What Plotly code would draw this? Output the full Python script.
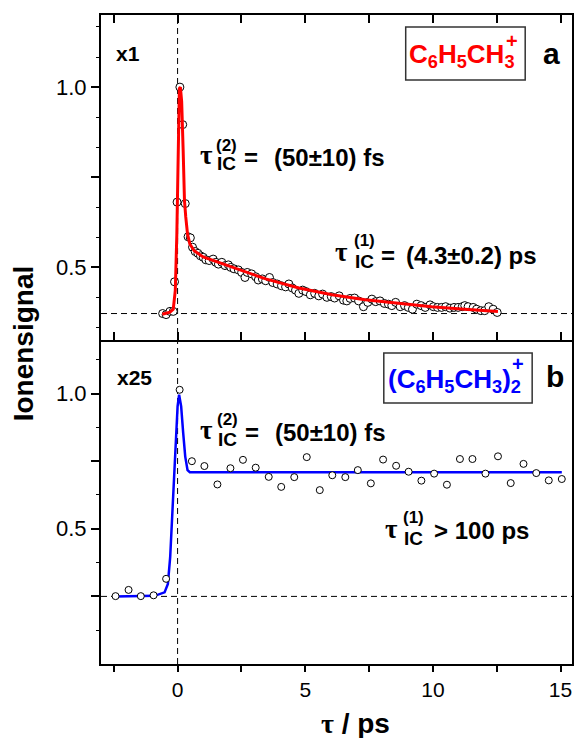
import plotly.graph_objects as go

# ---------------- panel a : C6H5CH3+ (x1) ----------------
tau_a = [-0.585, -0.45, -0.30, -0.17, -0.12, -0.02, 0.09, 0.20, 0.30, 0.41, 0.50,
         0.585, 0.69, 0.796, 0.897, 1.003, 1.108, 1.237, 1.393, 1.498, 1.60, 1.732,
         1.86, 1.99, 2.083, 2.21, 2.38, 2.51, 2.64, 2.73, 2.90, 3.06, 3.16, 3.32,
         3.45, 3.60, 3.73, 3.90, 4.07, 4.23, 4.36, 4.49, 4.62, 4.75, 4.90, 5.03,
         5.20, 5.37, 5.53, 5.68, 5.85, 6.02, 6.15, 6.33, 6.50, 6.63, 6.76, 6.93,
         7.09, 7.28, 7.45, 7.61, 7.76, 7.93, 8.10, 8.26, 8.39, 8.54, 8.72, 8.89,
         9.04, 9.20, 9.37, 9.54, 9.70, 9.89, 10.02, 10.18, 10.34, 10.50, 10.67,
         10.83, 10.99, 11.15, 11.25, 11.38, 11.58, 11.71, 11.88, 12.03, 12.19,
         12.36, 12.52]
sig_a = [0.372, 0.369, 0.378, 0.378, 0.460, 0.681, 1.000, 0.896, 0.677, 0.585, 0.582,
         0.556, 0.544, 0.539, 0.532, 0.528, 0.521, 0.519, 0.523, 0.514, 0.509, 0.514,
         0.505, 0.507, 0.500, 0.496, 0.493, 0.486, 0.472, 0.486, 0.482, 0.474, 0.465,
         0.468, 0.463, 0.472, 0.458, 0.454, 0.449, 0.446, 0.454, 0.443, 0.437, 0.428,
         0.437, 0.433, 0.424, 0.428, 0.421, 0.426, 0.417, 0.419, 0.415, 0.421, 0.409,
         0.407, 0.414, 0.415, 0.407, 0.391, 0.403, 0.412, 0.405, 0.407, 0.400, 0.398,
         0.394, 0.403, 0.391, 0.394, 0.389, 0.384, 0.398, 0.394, 0.389, 0.396, 0.391,
         0.389, 0.389, 0.391, 0.387, 0.389, 0.389, 0.391, 0.394, 0.391, 0.389, 0.384,
         0.380, 0.380, 0.391, 0.384, 0.375]
fit_tau_a = [-0.60, -0.30, -0.17, -0.09, -0.03, 0.03, 0.07, 0.11, 0.16, 0.22, 0.27,
             0.32, 0.39, 0.48, 0.65, 1.00, 2.15, 3.45, 4.75, 6.05, 7.35, 8.65, 9.95,
             11.25, 12.55]
fit_sig_a = [0.370, 0.376, 0.384, 0.436, 0.590, 0.870, 0.996, 1.000, 0.960, 0.820, 0.685,
             0.640, 0.592, 0.565, 0.546, 0.529, 0.500, 0.468, 0.443, 0.424, 0.410, 0.400,
             0.391, 0.384, 0.378]
base_a = 0.372

# ---------------- panel b : (C6H5CH3)2+ (x25) ----------------
tau_b = [-2.43, -1.92, -1.44, -0.94, -0.45, 0.08, 0.56, 1.05, 1.56, 2.07, 2.56, 3.06,
         3.57, 4.06, 4.57, 5.06, 5.57, 6.06, 6.57, 7.06, 7.57, 8.05, 8.56, 9.05, 9.55,
         10.05, 10.55, 11.06, 11.55, 12.06, 12.55, 13.05, 13.55, 14.05, 14.54, 15.05]
sig_b = [0.251, 0.274, 0.251, 0.254, 0.315, 1.014, 0.750, 0.732, 0.664, 0.724, 0.755,
         0.726, 0.692, 0.655, 0.691, 0.765, 0.643, 0.698, 0.691, 0.717, 0.668, 0.756,
         0.733, 0.711, 0.678, 0.704, 0.663, 0.758, 0.758, 0.704, 0.768, 0.669, 0.740,
         0.706, 0.679, 0.684]
fit_tau_b = [-2.45, -0.90, -0.51, -0.38, -0.29, -0.19, -0.08, 0.00, 0.06, 0.14, 0.22,
             0.30, 0.39, 0.48, 1.00, 5.00, 10.00, 15.05]
fit_sig_b = [0.250, 0.252, 0.265, 0.296, 0.395, 0.581, 0.792, 0.953, 0.996, 0.953, 0.854,
             0.767, 0.717, 0.709, 0.709, 0.709, 0.709, 0.709]
base_b = 0.25

# ---------------- axes ----------------
x_range = [-3.0, 15.45]
x_tickvals = [-2.5, 0, 2.5, 5, 7.5, 10, 12.5, 15]
x_ticktext = ["", "0", "", "5", "", "10", "", "15"]

ya_range = [0.3, 1.2]
ya_tickvals = [0.5, 0.75, 1.0]
ya_ticktext = ["0.5", "", "1.0"]
ya_minor = [0.333, 0.417, 0.583, 0.667, 0.833, 0.917, 1.083, 1.167]

yb_range = [0.0, 1.2]
yb_tickvals = [0.25, 0.5, 0.75, 1.0]
yb_ticktext = ["", "0.5", "", "1.0"]
yb_minor = [0.125, 0.375, 0.625, 0.875, 1.125]

FONT = "Liberation Sans, Arial, sans-serif"
TAU = '<span style="font-family:Liberation Serif, Times New Roman, serif">τ</span>'
W, H = 576, 738
L, R, T, B = 101, 574, 15, 664


def px(x):
    return (x - L) / (R - L)


def py(y):
    return (B - y) / (B - T)


fig = go.Figure()

# panel a
fig.add_trace(go.Scatter(x=tau_a, y=sig_a, mode="markers", xaxis="x", yaxis="y",
                         marker=dict(symbol="circle", size=8, color="white",
                                     line=dict(color="black", width=1)),
                         showlegend=False, hoverinfo="skip"))
fig.add_trace(go.Scatter(x=fit_tau_a, y=fit_sig_a, mode="lines", xaxis="x", yaxis="y",
                         line=dict(color="#ff0000", width=3),
                         showlegend=False, hoverinfo="skip"))
# panel b
fig.add_trace(go.Scatter(x=fit_tau_b, y=fit_sig_b, mode="lines", xaxis="x2", yaxis="y2",
                         line=dict(color="#0000ff", width=2.5),
                         showlegend=False, hoverinfo="skip"))
fig.add_trace(go.Scatter(x=tau_b, y=sig_b, mode="markers", xaxis="x2", yaxis="y2",
                         marker=dict(symbol="circle", size=7, color="white",
                                     line=dict(color="black", width=1)),
                         showlegend=False, hoverinfo="skip"))

axis_common = dict(showline=True, linecolor="black", linewidth=2, showgrid=False,
                   zeroline=False, tickcolor="black", tickwidth=1.5)

fig.update_layout(
    width=W, height=H,
    margin=dict(l=L, r=W - R, t=T, b=H - B, pad=0),
    paper_bgcolor="white", plot_bgcolor="white",
    font=dict(family=FONT, color="black", size=20),
    xaxis=dict(domain=[0, 1], anchor="y", range=x_range, tickmode="array",
               tickvals=x_tickvals, ticks="inside", ticklen=8, mirror="ticks",
               showticklabels=False, **axis_common),
    yaxis=dict(domain=[0.5, 1], anchor="x", range=ya_range, tickmode="array",
               tickvals=ya_tickvals, ticktext=ya_ticktext, ticks="outside", ticklen=8,
               mirror=True, tickfont=dict(size=22),
               minor=dict(tickmode="array", tickvals=ya_minor, ticks="outside",
                          ticklen=3, tickcolor="black", tickwidth=1),
               **axis_common),
    xaxis2=dict(domain=[0, 1], anchor="y2", range=x_range, tickmode="array",
                tickvals=x_tickvals, ticktext=x_ticktext, ticks="outside", ticklen=6,
                mirror=False, tickfont=dict(size=21), **axis_common),
    xaxis3=dict(overlaying="x2", anchor="y2", side="top", range=x_range,
                tickmode="array", tickvals=x_tickvals, ticks="inside", ticklen=8,
                showticklabels=False, **axis_common),
    yaxis2=dict(domain=[0, 0.5], anchor="x2", range=yb_range, tickmode="array",
                tickvals=yb_tickvals, ticktext=yb_ticktext, ticks="outside", ticklen=8,
                mirror=True, tickfont=dict(size=22),
                minor=dict(tickmode="array", tickvals=yb_minor, ticks="outside",
                           ticklen=3, tickcolor="black", tickwidth=1),
                **axis_common),
)

# reference lines: time zero and the signal baselines
dash_line = dict(color="black", width=1, dash="6px,4px")
fig.add_shape(type="line", xref="x", yref="paper", x0=0, x1=0, y0=0, y1=1,
              line=dash_line, layer="below")
fig.add_shape(type="line", xref="x domain", yref="y", x0=0, x1=1, y0=base_a, y1=base_a,
              line=dash_line, layer="below")
fig.add_shape(type="line", xref="x2 domain", yref="y2", x0=0, x1=1, y0=base_b, y1=base_b,
              line=dash_line, layer="below")

# species boxes
fig.add_shape(type="rect", xref="paper", yref="paper",
              x0=px(407), x1=px(527), y0=py(80), y1=py(27),
              line=dict(color="#333333", width=1.5), fillcolor="white")
fig.add_shape(type="rect", xref="paper", yref="paper",
              x0=px(385), x1=px(534), y0=py(403), y1=py(353),
              line=dict(color="#333333", width=1.5), fillcolor="white")


def label(x, y, text, size, color="black", xanchor="center", yanchor="middle", angle=0):
    fig.add_annotation(xref="paper", yref="paper", x=px(x), y=py(y), text=text,
                       showarrow=False, xanchor=xanchor, yanchor=yanchor,
                       textangle=angle, font=dict(family=FONT, size=size, color=color))


# panel tags
label(128, 53, "<b>x1</b>", 21)
label(135, 377, "<b>x25</b>", 21)
label(553, 54, "<b>a</b>", 30)
label(557, 376, "<b>b</b>", 30)

# species names
label(464, 55, "<b>C<sub>6</sub>H<sub>5</sub>CH<sub>3</sub></b>", 26, "#ff0000")
label(514, 41, "<b>+</b>", 20, "#ff0000")
label(456, 380, "<b>(C<sub>6</sub>H<sub>5</sub>CH<sub>3</sub>)<sub>2</sub></b>", 26, "#0000ff")
label(520, 364, "<b>+</b>", 20, "#0000ff")

# lifetimes, panel a
label(207, 155, "<b>" + TAU + "</b>", 27)
label(227, 145, "<b>(2)</b>", 17)
label(227, 164, "<b>IC</b>", 19)
label(252, 157, "<b>=</b>", 24)
label(273, 157, "<b>(50±10) fs</b>", 24, xanchor="left")

label(343, 252, "<b>" + TAU + "</b>", 27)
label(366, 240, "<b>(1)</b>", 17)
label(366, 261, "<b>IC</b>", 19)
label(389, 255, "<b>=</b>", 24)
label(405, 255, "<b>(4.3±0.2) ps</b>", 24, xanchor="left")

# lifetimes, panel b
label(207, 430, "<b>" + TAU + "</b>", 27)
label(228, 419, "<b>(2)</b>", 17)
label(228, 439, "<b>IC</b>", 19)
label(253, 432, "<b>=</b>", 24)
label(274, 432, "<b>(50±10) fs</b>", 24, xanchor="left")

label(393, 529, "<b>" + TAU + "</b>", 27)
label(415, 517, "<b>(1)</b>", 17)
label(415, 538, "<b>IC</b>", 19)
label(433, 530, "<b>&gt; 100 ps</b>", 24, xanchor="left")

# axis titles
label(357, 723, "<b>" + TAU + " / ps</b>", 28)
label(23, 343, "<b>Ionensignal</b>", 28, angle=-90)

fig.write_html("out.html")
